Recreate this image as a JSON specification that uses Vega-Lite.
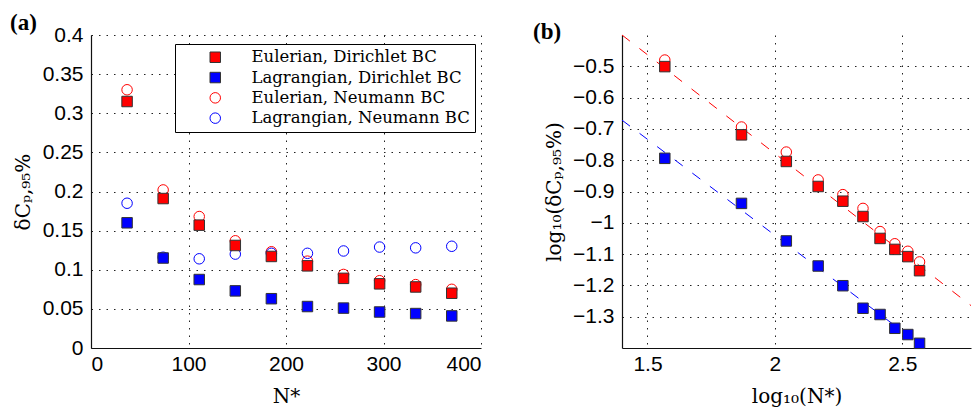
{
  "$schema": "https://vega.github.io/schema/vega-lite/v6.json",
  "background": "white",
  "padding": {"left": 10, "top": 12, "right": 0, "bottom": 2},
  "bounds": "flush",
  "spacing": 141,
  "config": {
    "view": {"stroke": null},
    "axis": {
      "labelFont": "Liberation Sans", "labelFontSize": 21, "labelColor": "#000",
      "titleFont": "DejaVu Serif", "titleFontSize": 20, "titleFontWeight": "normal", "titleColor": "#000",
      "grid": true, "gridColor": "#222", "gridDash": [1.5, 6], "gridWidth": 1,
      "domainColor": "#111", "domainWidth": 1.2, "ticks": false
    },
    "axisX": {"labelPadding": 5, "titlePadding": 12},
    "axisY": {"labelPadding": 8, "titlePadding": 9},
    "legend": {
      "strokeColor": "#000", "fillColor": "#fff", "padding": 5,
      "symbolOffset": 27, "labelOffset": 28,
      "labelFont": "DejaVu Serif", "labelFontSize": 16.5, "labelColor": "#000", "labelLimit": 400,
      "rowPadding": 3.3, "symbolSize": 110, "symbolStrokeWidth": 1
    }
  },
  "datasets": {
    "a": [
      {"N": 37, "v": 0.330, "s": "Eulerian, Neumann BC"},
      {"N": 74, "v": 0.202, "s": "Eulerian, Neumann BC"},
      {"N": 111, "v": 0.168, "s": "Eulerian, Neumann BC"},
      {"N": 148, "v": 0.137, "s": "Eulerian, Neumann BC"},
      {"N": 185, "v": 0.123, "s": "Eulerian, Neumann BC"},
      {"N": 222, "v": 0.111, "s": "Eulerian, Neumann BC"},
      {"N": 259, "v": 0.094, "s": "Eulerian, Neumann BC"},
      {"N": 296, "v": 0.086, "s": "Eulerian, Neumann BC"},
      {"N": 333, "v": 0.081, "s": "Eulerian, Neumann BC"},
      {"N": 370, "v": 0.075, "s": "Eulerian, Neumann BC"},
      {"N": 37, "v": 0.185, "s": "Lagrangian, Neumann BC"},
      {"N": 74, "v": 0.116, "s": "Lagrangian, Neumann BC"},
      {"N": 111, "v": 0.114, "s": "Lagrangian, Neumann BC"},
      {"N": 148, "v": 0.120, "s": "Lagrangian, Neumann BC"},
      {"N": 185, "v": 0.121, "s": "Lagrangian, Neumann BC"},
      {"N": 222, "v": 0.121, "s": "Lagrangian, Neumann BC"},
      {"N": 259, "v": 0.124, "s": "Lagrangian, Neumann BC"},
      {"N": 296, "v": 0.129, "s": "Lagrangian, Neumann BC"},
      {"N": 333, "v": 0.128, "s": "Lagrangian, Neumann BC"},
      {"N": 370, "v": 0.130, "s": "Lagrangian, Neumann BC"},
      {"N": 37, "v": 0.315, "s": "Eulerian, Dirichlet BC"},
      {"N": 74, "v": 0.191, "s": "Eulerian, Dirichlet BC"},
      {"N": 111, "v": 0.157, "s": "Eulerian, Dirichlet BC"},
      {"N": 148, "v": 0.131, "s": "Eulerian, Dirichlet BC"},
      {"N": 185, "v": 0.117, "s": "Eulerian, Dirichlet BC"},
      {"N": 222, "v": 0.105, "s": "Eulerian, Dirichlet BC"},
      {"N": 259, "v": 0.089, "s": "Eulerian, Dirichlet BC"},
      {"N": 296, "v": 0.082, "s": "Eulerian, Dirichlet BC"},
      {"N": 333, "v": 0.078, "s": "Eulerian, Dirichlet BC"},
      {"N": 370, "v": 0.070, "s": "Eulerian, Dirichlet BC"},
      {"N": 37, "v": 0.160, "s": "Lagrangian, Dirichlet BC"},
      {"N": 74, "v": 0.115, "s": "Lagrangian, Dirichlet BC"},
      {"N": 111, "v": 0.0875, "s": "Lagrangian, Dirichlet BC"},
      {"N": 148, "v": 0.073, "s": "Lagrangian, Dirichlet BC"},
      {"N": 185, "v": 0.063, "s": "Lagrangian, Dirichlet BC"},
      {"N": 222, "v": 0.053, "s": "Lagrangian, Dirichlet BC"},
      {"N": 259, "v": 0.051, "s": "Lagrangian, Dirichlet BC"},
      {"N": 296, "v": 0.046, "s": "Lagrangian, Dirichlet BC"},
      {"N": 333, "v": 0.044, "s": "Lagrangian, Dirichlet BC"},
      {"N": 370, "v": 0.041, "s": "Lagrangian, Dirichlet BC"}
    ],
    "b": [
      {"x": 1.568, "y": -0.480, "s": "Eulerian, Neumann BC"},
      {"x": 1.869, "y": -0.694, "s": "Eulerian, Neumann BC"},
      {"x": 2.045, "y": -0.774, "s": "Eulerian, Neumann BC"},
      {"x": 2.170, "y": -0.863, "s": "Eulerian, Neumann BC"},
      {"x": 2.267, "y": -0.910, "s": "Eulerian, Neumann BC"},
      {"x": 2.346, "y": -0.954, "s": "Eulerian, Neumann BC"},
      {"x": 2.413, "y": -1.028, "s": "Eulerian, Neumann BC"},
      {"x": 2.471, "y": -1.067, "s": "Eulerian, Neumann BC"},
      {"x": 2.522, "y": -1.091, "s": "Eulerian, Neumann BC"},
      {"x": 2.568, "y": -1.125, "s": "Eulerian, Neumann BC"},
      {"x": 1.568, "y": -0.501, "s": "Eulerian, Dirichlet BC"},
      {"x": 1.869, "y": -0.719, "s": "Eulerian, Dirichlet BC"},
      {"x": 2.045, "y": -0.804, "s": "Eulerian, Dirichlet BC"},
      {"x": 2.170, "y": -0.884, "s": "Eulerian, Dirichlet BC"},
      {"x": 2.267, "y": -0.931, "s": "Eulerian, Dirichlet BC"},
      {"x": 2.346, "y": -0.980, "s": "Eulerian, Dirichlet BC"},
      {"x": 2.413, "y": -1.050, "s": "Eulerian, Dirichlet BC"},
      {"x": 2.471, "y": -1.085, "s": "Eulerian, Dirichlet BC"},
      {"x": 2.522, "y": -1.108, "s": "Eulerian, Dirichlet BC"},
      {"x": 2.568, "y": -1.153, "s": "Eulerian, Dirichlet BC"},
      {"x": 1.568, "y": -0.794, "s": "Lagrangian, Dirichlet BC"},
      {"x": 1.869, "y": -0.938, "s": "Lagrangian, Dirichlet BC"},
      {"x": 2.045, "y": -1.058, "s": "Lagrangian, Dirichlet BC"},
      {"x": 2.170, "y": -1.138, "s": "Lagrangian, Dirichlet BC"},
      {"x": 2.267, "y": -1.201, "s": "Lagrangian, Dirichlet BC"},
      {"x": 2.346, "y": -1.273, "s": "Lagrangian, Dirichlet BC"},
      {"x": 2.413, "y": -1.293, "s": "Lagrangian, Dirichlet BC"},
      {"x": 2.471, "y": -1.337, "s": "Lagrangian, Dirichlet BC"},
      {"x": 2.522, "y": -1.357, "s": "Lagrangian, Dirichlet BC"},
      {"x": 2.568, "y": -1.385, "s": "Lagrangian, Dirichlet BC"}
    ],
    "fits": [
      {"fit": "E", "x": 1.4, "y": -0.400},
      {"fit": "E", "x": 2.77, "y": -1.2645},
      {"fit": "L", "x": 1.4, "y": -0.672},
      {"fit": "L", "x": 2.588, "y": -1.4}
    ]
  },
  "hconcat": [
    {
      "width": 390,
      "height": 313,
      "title": {"text": "(a)", "anchor": "start", "frame": "group", "dx": -81, "offset": -11, "font": "Liberation Serif", "fontSize": 23, "fontWeight": "bold", "color": "#000"},
      "data": {"name": "a"},
      "mark": {"type": "point", "size": 110, "strokeWidth": 1, "opacity": 1},
      "encoding": {
        "x": {"field": "N", "type": "quantitative", "scale": {"domain": [0, 400], "nice": false},
              "axis": {"values": [0, 100, 200, 300, 400], "title": "N*"}},
        "y": {"field": "v", "type": "quantitative", "scale": {"domain": [0, 0.4], "nice": false, "zero": false},
              "axis": {"values": [0, 0.05, 0.1, 0.15, 0.2, 0.25, 0.3, 0.35, 0.4], "format": "~g", "title": "δCₚ,₉₅%"}},
        "shape": {"field": "s", "type": "nominal",
                  "scale": {"domain": ["Eulerian, Dirichlet BC", "Lagrangian, Dirichlet BC", "Eulerian, Neumann BC", "Lagrangian, Neumann BC"], "range": ["square", "square", "circle", "circle"]},
                  "legend": {"title": null, "orient": "none", "legendX": 84, "legendY": 9}},
        "fill": {"field": "s", "type": "nominal",
                 "scale": {"domain": ["Eulerian, Dirichlet BC", "Lagrangian, Dirichlet BC", "Eulerian, Neumann BC", "Lagrangian, Neumann BC"], "range": ["#ff0000", "#0000ff", "transparent", "transparent"]},
                 "legend": {"title": null, "orient": "none", "legendX": 84, "legendY": 9}},
        "stroke": {"field": "s", "type": "nominal",
                   "scale": {"domain": ["Eulerian, Dirichlet BC", "Lagrangian, Dirichlet BC", "Eulerian, Neumann BC", "Lagrangian, Neumann BC"], "range": ["#333333", "#333333", "#ff0000", "#0000ff"]},
                   "legend": {"title": null, "orient": "none", "legendX": 84, "legendY": 9}}
      }
    },
    {
      "width": 349,
      "height": 313,
      "title": {"text": "(b)", "anchor": "start", "frame": "group", "dx": -89, "offset": -11, "font": "Liberation Serif", "fontSize": 23, "fontWeight": "bold", "color": "#000"},
      "layer": [
        {
          "data": {"name": "fits"},
          "transform": [{"filter": "datum.fit == 'E'"}],
          "mark": {"type": "line", "color": "#ff0000", "strokeWidth": 1, "strokeDash": [10, 12]},
          "encoding": {
            "x": {"field": "x", "type": "quantitative"},
            "y": {"field": "y", "type": "quantitative"}
          }
        },
        {
          "data": {"name": "fits"},
          "transform": [{"filter": "datum.fit == 'L'"}],
          "mark": {"type": "line", "color": "#0000ff", "strokeWidth": 1, "strokeDash": [10, 12]},
          "encoding": {
            "x": {"field": "x", "type": "quantitative"},
            "y": {"field": "y", "type": "quantitative"}
          }
        },
        {
          "data": {"name": "b"},
          "mark": {"type": "point", "size": 110, "strokeWidth": 1, "opacity": 1},
          "encoding": {
            "x": {"field": "x", "type": "quantitative"},
            "y": {"field": "y", "type": "quantitative"},
            "shape": {"field": "s", "type": "nominal",
                      "scale": {"domain": ["Eulerian, Dirichlet BC", "Lagrangian, Dirichlet BC", "Eulerian, Neumann BC", "Lagrangian, Neumann BC"], "range": ["square", "square", "circle", "circle"]}},
            "fill": {"field": "s", "type": "nominal",
                     "scale": {"domain": ["Eulerian, Dirichlet BC", "Lagrangian, Dirichlet BC", "Eulerian, Neumann BC", "Lagrangian, Neumann BC"], "range": ["#ff0000", "#0000ff", "transparent", "transparent"]}},
            "stroke": {"field": "s", "type": "nominal",
                       "scale": {"domain": ["Eulerian, Dirichlet BC", "Lagrangian, Dirichlet BC", "Eulerian, Neumann BC", "Lagrangian, Neumann BC"], "range": ["#333333", "#333333", "#ff0000", "#0000ff"]}}
          }
        }
      ],
      "encoding": {
        "x": {"field": "x", "type": "quantitative", "scale": {"domain": [1.4, 2.77], "nice": false, "zero": false},
              "axis": {"values": [1.5, 2, 2.5], "format": "~g", "title": "log₁₀(N*)"}},
        "y": {"field": "y", "type": "quantitative", "scale": {"domain": [-1.4, -0.4], "nice": false, "zero": false},
              "axis": {"values": [-1.3, -1.2, -1.1, -1, -0.9, -0.8, -0.7, -0.6, -0.5], "format": "~g", "title": "log₁₀(δCₚ,₉₅%)", "titlePadding": 8}}
      }
    }
  ]
}
